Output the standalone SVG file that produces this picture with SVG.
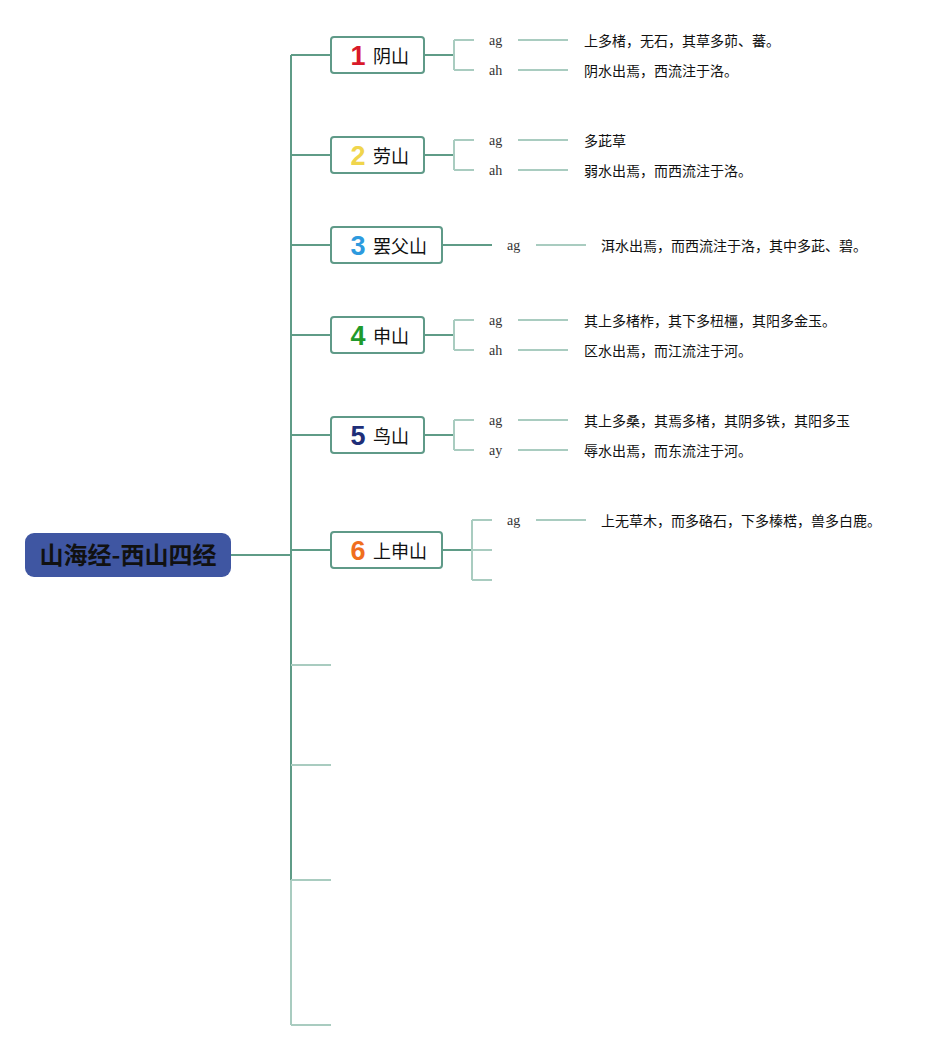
<svg xmlns="http://www.w3.org/2000/svg" width="941" height="1050" viewBox="0 0 941 1050">
<style>
.main{stroke:#5f9c87;stroke-width:2;fill:none}
.sub{stroke:#a9ccc0;stroke-width:2;fill:none}
.box{fill:#fff;stroke:#5f9a88;stroke-width:2}
.lab{font-family:"Noto Sans CJK SC",sans-serif;font-size:18px;fill:#111}
.num{font-family:"Liberation Sans",Arial,sans-serif;font-weight:bold;font-size:27px}
.k{font-family:"Liberation Serif",serif;font-size:14px;fill:#333}
.t{font-family:"Noto Sans CJK SC",sans-serif;font-size:14px;fill:#111}
</style>
<rect width="941" height="1050" fill="#fff"/>
<g id="connectors">
<path class="main" d="M231 555H291M291 55V880"/>
<path class="sub" d="M291 880V1025"/>
<path class="main" d="M291 55H331M291 155H331M291 245H331M291 335H331M291 435H331M291 550H331"/>
<path class="sub" d="M291 665H331M291 765H331M291 880H331M291 1025H331"/>
<path class="main" d="M424 55H454M424 155H454M424 335H454M424 435H454M442 550H472M442 245H492"/>
<path class="sub" d="M454 40V70M454 40H474M454 70H474M518 40H568M518 70H568"/>
<path class="sub" d="M454 140V170M454 140H474M454 170H474M518 140H568M518 170H568"/>
<path class="sub" d="M536 245H586"/>
<path class="sub" d="M454 320V350M454 320H474M454 350H474M518 320H568M518 350H568"/>
<path class="sub" d="M454 420V450M454 420H474M454 450H474M518 420H568M518 450H568"/>
<path class="sub" d="M472 520V580M472 520H492M472 550H492M472 580H492M536 520H586"/>
</g>
<g id="root">
<rect x="25" y="533" width="206" height="44" rx="9" fill="#3f56a2"/>
<text x="128" y="564" text-anchor="middle" font-family="Noto Sans CJK SC,sans-serif" font-weight="bold" font-size="24" fill="#111">山海经-西山四经</text>
</g>
<g id="n1">
<rect class="box" x="331" y="37" width="93" height="36" rx="3"/>
<text class="num" x="358" y="65" text-anchor="middle" fill="#d9192a">1</text>
<text class="lab" x="373" y="63">阴山</text>
<text class="k" x="489" y="45">ag</text><text class="t" x="584" y="46">上多楮，无石，其草多茆、蕃。</text>
<text class="k" x="489" y="75">ah</text><text class="t" x="584" y="76">阴水出焉，西流注于洛。</text>
</g>
<g id="n2">
<rect class="box" x="331" y="137" width="93" height="36" rx="3"/>
<text class="num" x="358" y="165" text-anchor="middle" fill="#f0d54c">2</text>
<text class="lab" x="373" y="163">劳山</text>
<text class="k" x="489" y="145">ag</text><text class="t" x="584" y="146">多茈草</text>
<text class="k" x="489" y="175">ah</text><text class="t" x="584" y="176">弱水出焉，而西流注于洛。</text>
</g>
<g id="n3">
<rect class="box" x="331" y="227" width="111" height="36" rx="3"/>
<text class="num" x="358" y="255" text-anchor="middle" fill="#2d9ade">3</text>
<text class="lab" x="373" y="253">罢父山</text>
<text class="k" x="507" y="250">ag</text><text class="t" x="601" y="251">洱水出焉，而西流注于洛，其中多茈、碧。</text>
</g>
<g id="n4">
<rect class="box" x="331" y="317" width="93" height="36" rx="3"/>
<text class="num" x="358" y="345" text-anchor="middle" fill="#1f9a2c">4</text>
<text class="lab" x="373" y="343">申山</text>
<text class="k" x="489" y="325">ag</text><text class="t" x="584" y="326">其上多楮柞，其下多杻橿，其阳多金玉。</text>
<text class="k" x="489" y="355">ah</text><text class="t" x="584" y="356">区水出焉，而江流注于河。</text>
</g>
<g id="n5">
<rect class="box" x="331" y="417" width="93" height="36" rx="3"/>
<text class="num" x="358" y="445" text-anchor="middle" fill="#1e2e78">5</text>
<text class="lab" x="373" y="443">鸟山</text>
<text class="k" x="489" y="425">ag</text><text class="t" x="584" y="426">其上多桑，其焉多楮，其阴多铁，其阳多玉</text>
<text class="k" x="489" y="455">ay</text><text class="t" x="584" y="456">辱水出焉，而东流注于河。</text>
</g>
<g id="n6">
<rect class="box" x="331" y="532" width="111" height="36" rx="3"/>
<text class="num" x="358" y="560" text-anchor="middle" fill="#f06e1e">6</text>
<text class="lab" x="373" y="558">上申山</text>
<text class="k" x="507" y="525">ag</text><text class="t" x="601" y="526">上无草木，而多硌石，下多榛楛，兽多白鹿。</text>
</g>
</svg>
